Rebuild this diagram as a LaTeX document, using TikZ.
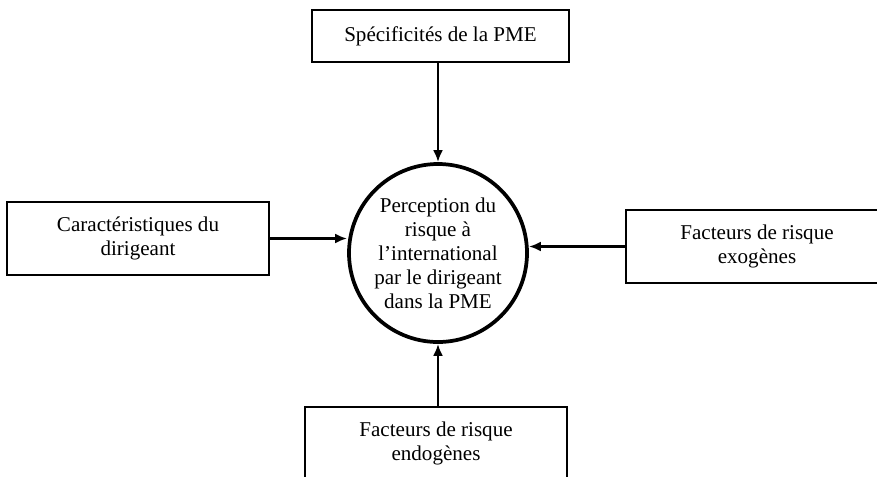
\documentclass[tikz,border=0pt]{standalone}
\usepackage{fontspec}
\setmainfont{Liberation Serif}
\usetikzlibrary{arrows.meta}
\tikzset{
  facteur/.style={draw, line width=1.4pt, minimum width=196.5pt, minimum height=54.75pt, inner sep=2pt, align=center, font=\fontsize{15.8}{18}\selectfont},
  percep/.style={draw, circle, line width=2.8pt, minimum size=133.5pt, inner sep=0pt, align=center, font=\fontsize{15.8}{18}\selectfont},
  fleche/.style={line width=1.8pt, -{Latex[length=9pt, width=7.5pt]}}
}
\begin{document}
\begin{tikzpicture}[x=0.75pt, y=-0.75pt]
\useasboundingbox (0, 0) rectangle (877, 476);
\node[percep] (perc) at (438, 253) {Perception du\\risque à\\l’international\\par le dirigeant\\dans la PME};
\node[facteur, minimum width=192.75pt, minimum height=39pt] (spec) at (440.5, 36) {Spécificités de la PME};
\node[facteur] (dirig) at (138, 238.5) {Caractéristiques du\\dirigeant};
\node[facteur] (exo) at (757, 246.5) {Facteurs de risque\\exogènes};
\node[facteur] (endo) at (436, 443.5) {Facteurs de risque\\endogènes};
\draw[fleche] (spec.south -| perc.north) -- (perc.north);
\draw[fleche] (dirig.east) -- (dirig.east -| perc.west);
\draw[fleche] (exo.west) -- (exo.west -| perc.east);
\draw[fleche] (endo.north -| perc.south) -- (perc.south);
\end{tikzpicture}
\end{document}
